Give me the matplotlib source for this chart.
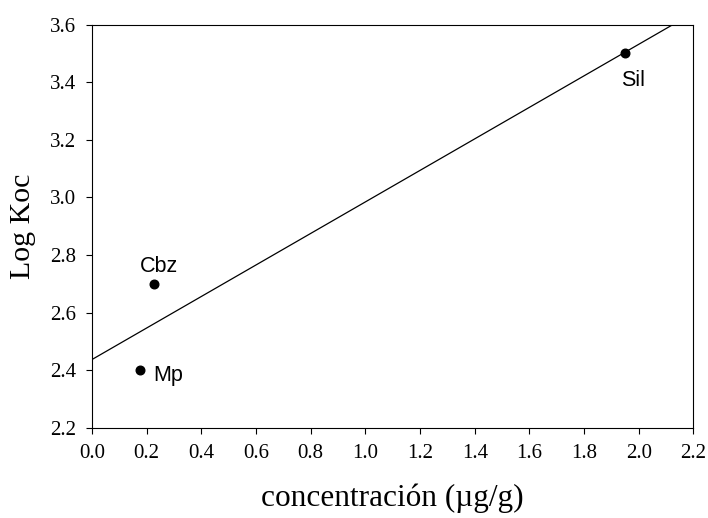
import matplotlib

matplotlib.use("Agg")
import matplotlib.pyplot as plt
import numpy as np

# data
names = ["Mp", "Cbz", "Sil"]
conc = [0.175, 0.228, 1.95]
log_koc = [2.40, 2.70, 3.50]

x_ticks = [0.0, 0.2, 0.4, 0.6, 0.8, 1.0, 1.2, 1.4, 1.6, 1.8, 2.0, 2.2]
y_ticks = [2.2, 2.4, 2.6, 2.8, 3.0, 3.2, 3.4, 3.6]

# label offsets in points (dx, dy, ha)
label_pos = {
    "Mp": (9.4, -7.4, "left"),
    "Cbz": (3.2, 8.6, "center"),
    "Sil": (-3.0, -23.8, "left"),
}

fig = plt.figure(figsize=(7.08, 5.18), dpi=100)
ax = fig.add_axes([0.130, 0.1737, 0.8495, 0.779])

# least-squares line through the three points
slope, intercept = np.polyfit(conc, log_koc, 1)
xs = np.array([0.0, 2.2])
ax.plot(xs, intercept + slope * xs, color="black", lw=0.9)
ax.plot(conc, log_koc, "o", color="black", ms=6.2)

for name, x, y in zip(names, conc, log_koc):
    dx, dy, ha = label_pos[name]
    ax.annotate(name, (x, y), xytext=(dx, dy), textcoords="offset points",
                ha=ha, va="baseline", fontsize=15.5, family="Liberation Sans")

ax.set_xlim(0, 2.2)
ax.set_ylim(2.2, 3.6)
ax.set_xticks(x_ticks)
ax.set_yticks(y_ticks)
ax.set_xticklabels([f"{v:.1f}" for v in x_ticks], family="Liberation Serif", fontsize=15)
ax.set_yticklabels([f"{v:.1f}" for v in y_ticks], family="Liberation Serif", fontsize=15)
ax.tick_params(direction="out", length=4.5, width=0.8, pad=7)
for spine in ax.spines.values():
    spine.set_linewidth(0.8)

ax.set_xlabel("concentración (µg/g)", family="Liberation Serif", fontsize=22.5,
              va="center")
ax.set_ylabel("Log Koc", family="Liberation Serif", fontsize=21.5,
              va="center", ha="center")
ax.xaxis.set_label_coords(0.5, -0.1735)
ax.yaxis.set_label_coords(-0.1147, 0.5)

fig.savefig("out.png", dpi=100)
